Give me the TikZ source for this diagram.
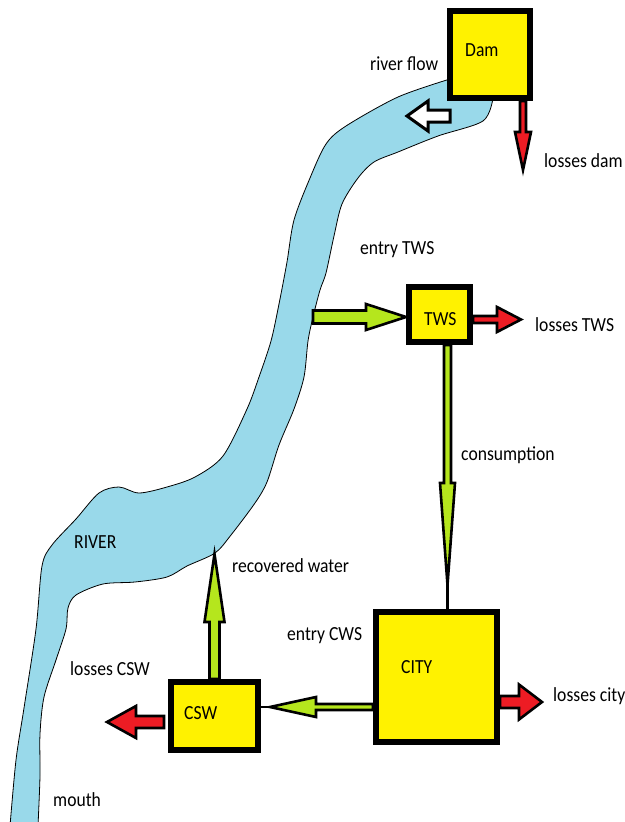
\documentclass[tikz,border=0pt]{standalone}
\usepackage{fontspec}
\setmainfont{Carlito}[FakeStretch=0.88]
\usetikzlibrary{calc}

\definecolor{riverblue}{HTML}{99D9EA}
\definecolor{boxyellow}{HTML}{FFF200}
\definecolor{flowgreen}{HTML}{B5E61D}
\definecolor{lossred}{HTML}{ED1C24}

\tikzset{
  box/.style={draw, line width=6pt, fill=boxyellow, inner sep=0pt, outer sep=3pt},
  lbl/.style={anchor=base west, inner sep=0pt, font=\fontsize{20}{24}\selectfont},
  river/.style={fill=riverblue, draw=black, line width=0.8pt},
  % half shaft width / half head width / head length (pt)
  flow/.style n args={3}{draw=black, line width=2.6pt, line join=miter,
    to path={
      let \p1=(\tikztostart), \p2=(\tikztotarget),
          \n1={atan2(\y2-\y1,\x2-\x1)} in
      ($(\p1)+(\n1+90:#1pt)$)
      -- ($(\p2)+(\n1+180:#3pt)+(\n1+90:#1pt)$)
      -- ($(\p2)+(\n1+180:#3pt)+(\n1+90:#2pt)$)
      -- (\p2)
      -- ($(\p2)+(\n1+180:#3pt)+(\n1-90:#2pt)$)
      -- ($(\p2)+(\n1+180:#3pt)+(\n1-90:#1pt)$)
      -- ($(\p1)+(\n1-90:#1pt)$) -- cycle}},
}

\begin{document}
\begin{tikzpicture}[x=1pt, y=-1pt]
  \useasboundingbox (0,0) rectangle (624,822);

  % the river
  \begin{scope}
    \clip (0,0) rectangle (624,822);
    \filldraw[river]
      plot[smooth] coordinates {(450,79) (398,97) (346,126) (326,144) (310,178)
        (294,220) (287,262) (279,304) (271,341) (259,377) (247,409) (223,456)
        (195,477) (167,487) (139,493) (119,487) (99,493) (76,519) (52,545)
        (42,566) (36,629) (24,708) (16,760) (10,826)}
      -- plot[smooth] coordinates {(38,826) (40,776) (40,734) (44,697) (56,660)
        (66,629) (68,608) (76,595) (103,584) (135,582) (167,577) (187,566)
        (215,553) (231,535) (255,503) (267,482) (279,445) (294,409) (304,377)
        (308,341) (313,317) (320,290) (326,273) (334,236) (342,204) (358,178)
        (374,162) (398,152) (438,136) (483,121) (493,98)}
      -- cycle;
  \end{scope}

  % boxes
  \node[box, minimum width=80pt, minimum height=87pt] (dam) at (490,54.5) {};
  \node[box, minimum width=61pt, minimum height=55pt] (tws) at (439.5,314.5) {};
  \node[box, minimum width=121pt, minimum height=130pt] (city) at (436.5,677) {};
  \node[box, minimum width=87pt, minimum height=68pt] (csw) at (214.5,716) {};

  % flows
  \coordinate (flowstart) at (450,116);
  \coordinate (flowend) at (407,116);
  \draw[flow={6}{15}{21}, fill=white, line width=3pt] (flowstart) to (flowend);
  \draw[flow={3}{8}{38}, fill=lossred]
    ($(dam.south east)+(-10,0)$) to ($(dam.south east)+(-10,69)$);

  \coordinate (twsin) at (313,317);
  \draw[flow={6.5}{13}{40}, fill=flowgreen] (twsin) to (twsin -| tws.west);
  \draw[flow={3.5}{12.5}{24}, fill=lossred]
    ($(tws.east)+(0,5)$) to ($(tws.east)+(48,5)$);

  \coordinate (consumetip) at (447.5,585);
  \draw[flow={3.5}{7.5}{102}, fill=flowgreen] (consumetip |- tws.south) to (consumetip);
  \draw[line width=2.5pt] (consumetip) -- (consumetip |- city.north);

  \draw[flow={6}{17.5}{23}, fill=lossred]
    ($(city.east)+(0,25)$) to ($(city.east)+(42,25)$);

  \coordinate (cwstip) at (270,707);
  \draw[flow={3}{10}{46}, fill=flowgreen] (cwstip -| city.west) to (cwstip);
  \draw[line width=2.5pt] (cwstip) -- (cwstip -| csw.east);

  \coordinate (recovtip) at (214.5,554);
  \draw[flow={5}{10}{68}, fill=flowgreen] (csw.north) to (recovtip);
  \draw[flow={6}{16}{29}, fill=lossred]
    ($(csw.west)+(-4,6)$) to ($(csw.west)+(-61,6)$);

  % labels
  \node[lbl] (damtxt) at (465,56) {Dam};
  \node[lbl] (twstxt) at (424,325) {TWS};
  \node[lbl] (citytxt) at (401,673) {CITY};
  \node[lbl] (cswtxt) at (184,719) {CSW};
  \node[lbl] (rivflow) at (370,70) {river flow};
  \node[lbl] (lossdam) at (544,167) {losses dam};
  \node[lbl] (entrytws) at (360,254) {entry TWS};
  \node[lbl] (losstws) at (535,331) {losses TWS};
  \node[lbl] (consume) at (461,460) {consumption};
  \node[lbl] (rivtxt) at (74,548) {RIVER};
  \node[lbl] (recov) at (232,572) {recovered water};
  \node[lbl] (entrycws) at (287,640) {entry CWS};
  \node[lbl] (losscsw) at (70,675) {losses CSW};
  \node[lbl] (losscity) at (553,701) {losses city};
  \node[lbl] (mouth) at (53,806) {mouth};
\end{tikzpicture}
\end{document}
